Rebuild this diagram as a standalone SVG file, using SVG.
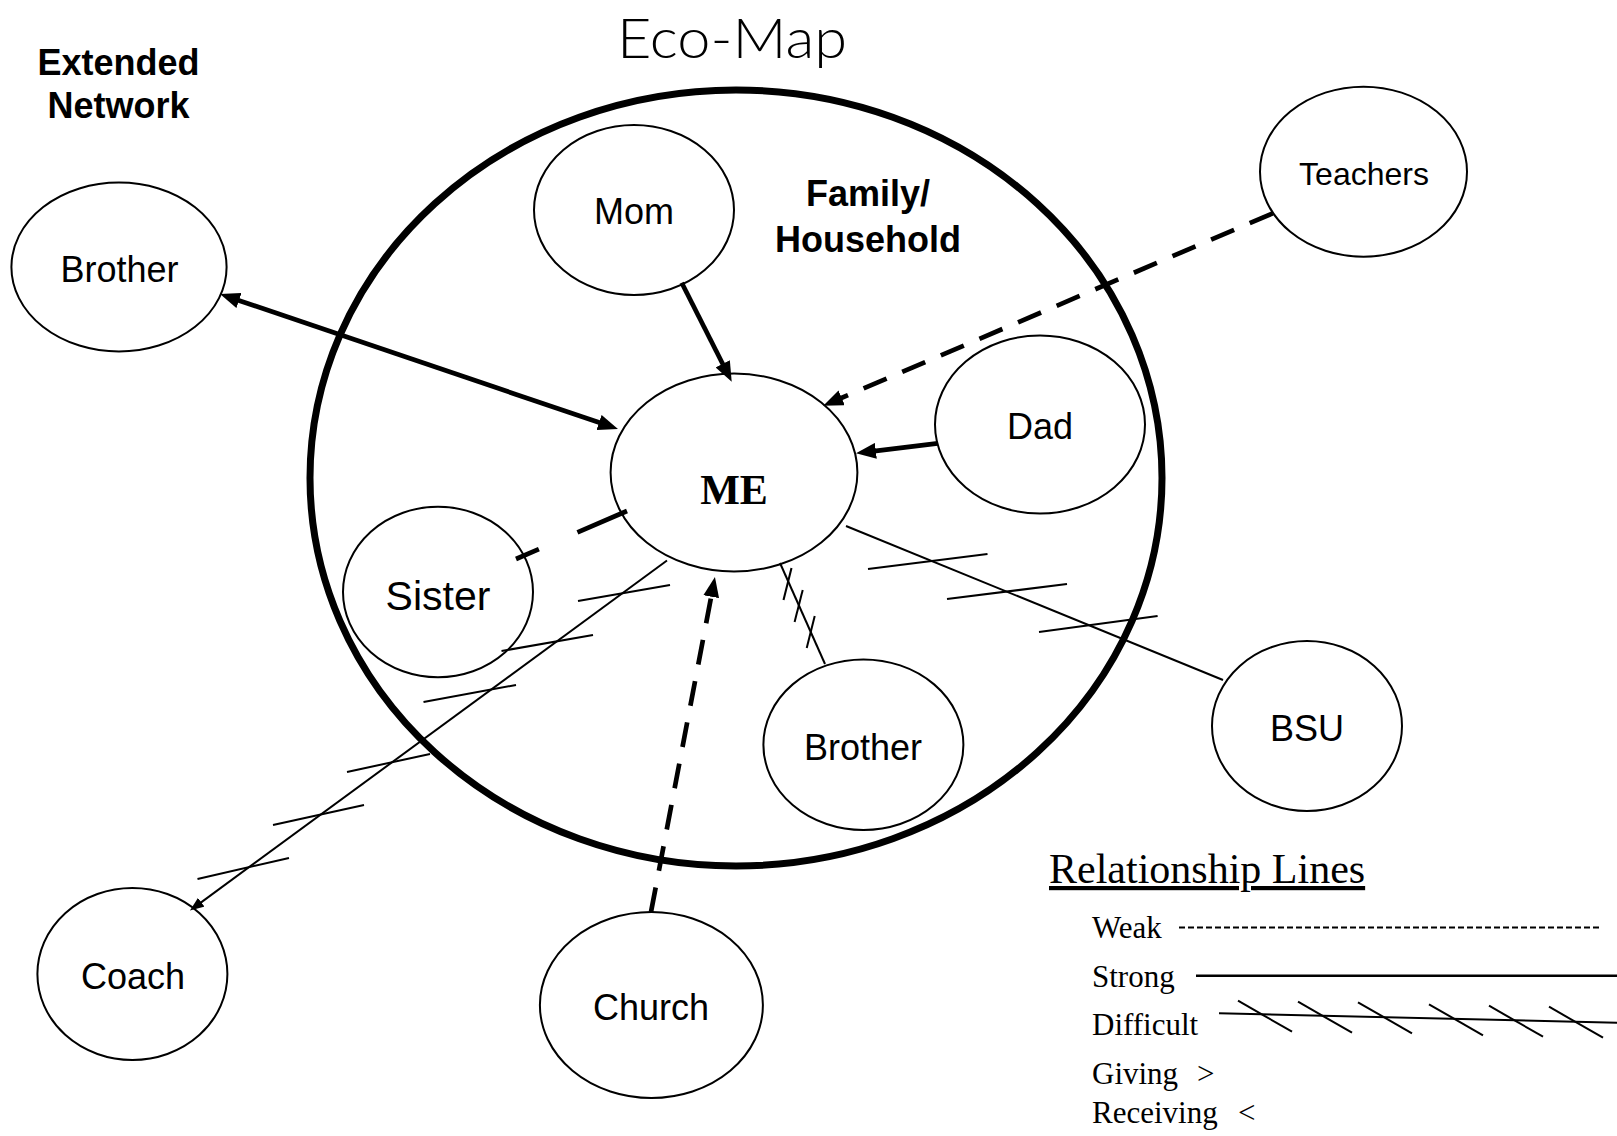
<svg xmlns="http://www.w3.org/2000/svg" width="1617" height="1136" viewBox="0 0 1617 1136">
<style>
.n{fill:none;stroke:#000;stroke-width:2}
.lbl{font-family:"Liberation Sans",Arial,sans-serif;font-size:36px;text-anchor:middle;fill:#000}
.hd{font-family:"Liberation Sans",Arial,sans-serif;font-size:36px;font-weight:bold;text-anchor:middle;fill:#000}
.lg{font-family:"Liberation Serif","Times New Roman",serif;font-size:31px;fill:#000}
.thick{fill:none;stroke:#000;stroke-width:4.7}
.dash{stroke-dasharray:25 17}
.thin{fill:none;stroke:#000;stroke-width:2}
</style>
<defs>
<marker id="arr" viewBox="0 0 20 16" refX="8" refY="8" markerWidth="20" markerHeight="16" orient="auto-start-reverse" markerUnits="userSpaceOnUse"><path d="M0,0 L20,8 L0,16 z" fill="#000"/></marker>
<marker id="arrs" viewBox="0 0 14 11" refX="9" refY="5.5" markerWidth="14" markerHeight="11" orient="auto" markerUnits="userSpaceOnUse"><path d="M0,0 L14,5.5 L0,11 z" fill="#000"/></marker>
</defs>
<rect width="1617" height="1136" fill="#fff"/>
<text x="617" y="58" font-family="Lato,'Open Sans',sans-serif" font-weight="300" font-size="56" textLength="230" lengthAdjust="spacingAndGlyphs" fill="#000">Eco-Map</text>
<text class="hd" x="118.5" y="75">Extended</text>
<text class="hd" x="118.5" y="118">Network</text>
<text class="hd" x="868" y="206">Family/</text>
<text class="hd" x="868" y="252">Household</text>
<ellipse id="household" cx="736" cy="478" rx="426" ry="388" fill="none" stroke="#000" stroke-width="7"/>
<g id="mom"><ellipse class="n" cx="634" cy="210" rx="100" ry="85"/><text class="lbl" x="634" y="224">Mom</text></g>
<g id="teachers"><ellipse class="n" cx="1363.5" cy="171.7" rx="103.5" ry="85"/><text class="lbl" x="1364" y="185" style="font-size:32px">Teachers</text></g>
<g id="brother-ext"><ellipse class="n" cx="119" cy="267" rx="107.6" ry="84.5"/><text class="lbl" x="119.5" y="281.5">Brother</text></g>
<g id="me"><ellipse class="n" cx="734" cy="472.5" rx="123.4" ry="99"/><text x="734" y="504" font-family="'Liberation Serif','Times New Roman',serif" font-weight="bold" font-size="42" text-anchor="middle">ME</text></g>
<g id="dad"><ellipse class="n" cx="1040" cy="424.5" rx="105" ry="89"/><text class="lbl" x="1040" y="439">Dad</text></g>
<g id="sister"><ellipse class="n" cx="438" cy="592" rx="95" ry="85.3"/><text class="lbl" x="438" y="610" style="font-size:41px">Sister</text></g>
<g id="brother-home"><ellipse class="n" cx="863.4" cy="744.7" rx="100" ry="85.3"/><text class="lbl" x="863" y="760">Brother</text></g>
<g id="bsu"><ellipse class="n" cx="1307" cy="726" rx="95" ry="85"/><text class="lbl" x="1307" y="741">BSU</text></g>
<g id="coach"><ellipse class="n" cx="132.4" cy="974" rx="95" ry="86"/><text class="lbl" x="133" y="989">Coach</text></g>
<g id="church"><ellipse class="n" cx="651.4" cy="1005" rx="111.5" ry="93"/><text class="lbl" x="651" y="1020">Church</text></g>
<g id="connectors">
<line class="thick" x1="231.4" y1="297.9" x2="606.6" y2="425.1" marker-start="url(#arr)" marker-end="url(#arr)"/>
<line class="thick" x1="681.7" y1="282.7" x2="726.3" y2="371" marker-end="url(#arr)"/>
<line class="thick" x1="937.7" y1="443.3" x2="867.9" y2="451.8" marker-end="url(#arr)"/>
<line class="thick dash" x1="1272.7" y1="213.3" x2="834.3" y2="401" marker-end="url(#arr)"/>
<line class="thick dash" x1="651" y1="912" x2="712.7" y2="588.8" marker-end="url(#arr)"/>
<line class="thick" x1="627" y1="511" x2="516" y2="559" stroke-dasharray="54 42"/>
<line class="thin" x1="667" y1="560.5" x2="194" y2="907.6" marker-end="url(#arrs)"/>
<g class="thin">
<line x1="578" y1="601" x2="670" y2="585"/>
<line x1="501.5" y1="651" x2="593" y2="635"/>
<line x1="423.5" y1="702" x2="516" y2="685"/>
<line x1="347" y1="772" x2="430" y2="754"/>
<line x1="273" y1="825" x2="364" y2="805"/>
<line x1="197.5" y1="879" x2="289" y2="858"/>
</g>
<line class="thin" x1="780" y1="563" x2="825" y2="664"/>
<g class="thin">
<line x1="783.5" y1="600" x2="791.5" y2="568"/>
<line x1="794.6" y1="622" x2="802.7" y2="590"/>
<line x1="806.7" y1="648" x2="814.7" y2="616"/>
</g>
<line class="thin" x1="846" y1="526" x2="1223" y2="680"/>
<g class="thin">
<line x1="868" y1="569" x2="987.5" y2="554"/>
<line x1="947" y1="599" x2="1067" y2="584"/>
<line x1="1039" y1="632" x2="1157.6" y2="616"/>
</g>
</g>
<g id="legend">
<text class="lg" x="1049" y="883" style="font-size:42px" text-decoration="underline">Relationship Lines</text>
<text class="lg" x="1092" y="938">Weak</text>
<line x1="1179" y1="927.5" x2="1600" y2="927.5" stroke="#000" stroke-width="2" stroke-dasharray="6 3"/>
<text class="lg" x="1092" y="987">Strong</text>
<line x1="1196" y1="975.7" x2="1617" y2="975.7" stroke="#000" stroke-width="2.5"/>
<text class="lg" x="1092" y="1035">Difficult</text>
<line x1="1219" y1="1013.3" x2="1617" y2="1022.7" stroke="#000" stroke-width="2"/>
<g class="thin">
<line x1="1238" y1="1000.7" x2="1292" y2="1031.7"/>
<line x1="1298" y1="1001.7" x2="1352" y2="1032.7"/>
<line x1="1358" y1="1002.3" x2="1412" y2="1033.3"/>
<line x1="1429" y1="1004.3" x2="1483" y2="1035.3"/>
<line x1="1489" y1="1005.7" x2="1543" y2="1036.7"/>
<line x1="1549" y1="1006.7" x2="1603" y2="1037.7"/>
</g>
<text class="lg" x="1092" y="1084">Giving <tspan x="1197">&gt;</tspan></text>
<text class="lg" x="1092" y="1123">Receiving <tspan x="1238">&lt;</tspan></text>
</g>
</svg>
